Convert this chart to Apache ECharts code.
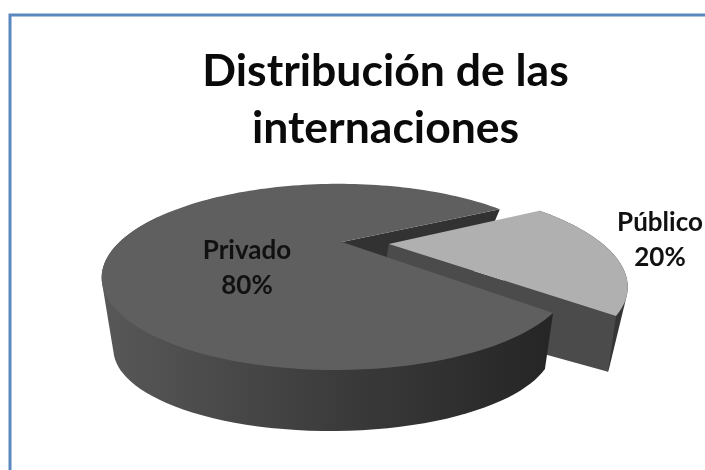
<!DOCTYPE html>
<html>
<head>
<meta charset="utf-8">
<style>
  html, body { margin: 0; padding: 0; background: #fff; }
  #chart { width: 705px; height: 470px; }
</style>
<script src="https://cdn.jsdelivr.net/npm/echarts@6/dist/echarts.min.js"></script>
</head>
<body>
<div id="chart"></div>
<script>
const titleText = 'Distribución de las\ninternaciones'
const categories = ['Privado', 'Público']
const values = [80, 20]
const exploded = [0, 0.215]

const total = values.reduce((a, b) => a + b, 0)
const startDeg = 42.5 // Privado arranca en la esquina frontal derecha
const rad = Math.PI / 180

// perspectiva del disco superior e inferior
const topRing = { x: 342, y: 242, a: 218, b: 80, k: 0.375, l: 0.02 }
const lowRing = { x: 338, y: 307, a: 190, b: 62, k: 0.5, l: 0.02 }

function project(ring, u, v) {
  const d = 1 - ring.k * v + ring.l * u
  return [ring.x + ring.a * u / d, ring.y + ring.b * v / d]
}

function arc(ring, from, to, off) {
  const pts = []
  const n = Math.max(2, Math.ceil(Math.abs(to - from) / 2))
  for (let i = 0; i <= n; i++) {
    const t = (from + (to - from) * i / n) * rad
    pts.push(project(ring, off[0] + Math.cos(t), off[1] + Math.sin(t)))
  }
  return pts
}

// contorno convexo: la silueta de la pared une los dos discos por su tangente
function hull(points) {
  const p = points.slice().sort((a, b) => a[0] - b[0] || a[1] - b[1])
  const cross = (o, a, b) => (a[0] - o[0]) * (b[1] - o[1]) - (a[1] - o[1]) * (b[0] - o[0])
  const half = list => {
    const out = []
    list.forEach(pt => {
      while (out.length > 1 && cross(out[out.length - 2], out[out.length - 1], pt) <= 0) out.pop()
      out.push(pt)
    })
    out.pop()
    return out
  }
  return half(p).concat(half(p.slice().reverse()))
}

function wall(from, to, off) {
  return hull(arc(topRing, from, to, off).concat(arc(lowRing, from, to, off)))
}

function sliceAngles(idx) {
  let from = startDeg
  for (let i = 0; i < idx; i++) from += values[i] / total * 360
  return [from, from + values[idx] / total * 360]
}

function poly(points, fill, z2) {
  return { type: 'polygon', z2: z2, shape: { points: points }, style: { fill: fill } }
}

function edgeWall(angle, off) {
  const t = angle * rad
  const o = [off[0] + Math.cos(t), off[1] + Math.sin(t)]
  return [
    project(topRing, off[0], off[1]), project(topRing, o[0], o[1]),
    project(lowRing, o[0], o[1]), project(lowRing, off[0], off[1])
  ]
}

function renderSlice(params, api) {
  const idx = params.dataIndex
  const pct = Math.round(api.value(0) / total * 100)
  const [from, to] = sliceAngles(idx)
  const mid = (from + to) / 2 * rad
  const off = [exploded[idx] * Math.cos(mid), exploded[idx] * Math.sin(mid)]
  const top = [project(topRing, off[0], off[1])].concat(arc(topRing, from, to, off))
  const label = categories[idx] + '\n' + pct + '%'
  const textStyle = {
    text: label, align: 'center', verticalAlign: 'middle',
    font: '700 26px Lato', lineHeight: 35, fill: '#111'
  }
  if (idx === 0) {
    const shade = new echarts.graphic.LinearGradient(0, 0, 1, 0, [
      { offset: 0, color: '#585858' },
      { offset: 0.55, color: '#3a3a3a' },
      { offset: 1, color: '#252525' }
    ])
    return { type: 'group', children: [
      poly(edgeWall(to, off), '#323232', 1),
      poly(wall(from, 200, off), shade, 6),
      poly(top, '#5f5f5f', 7),
      { type: 'text', z2: 9, x: 247, y: 268, style: textStyle }
    ] }
  }
  return { type: 'group', children: [
    poly(wall(from, to, off), '#353535', 2),
    poly(edgeWall(to, off), '#4b4b4b', 3),
    poly(top, '#b0b0b0', 4),
    { type: 'text', z2: 9, x: 660, y: 240, style: textStyle }
  ] }
}

const chart = echarts.init(document.getElementById('chart'))
chart.setOption({
  animation: false,
  backgroundColor: '#fff',
  title: {
    text: titleText,
    left: 380.5,
    top: 38,
    textAlign: 'center',
    textStyle: { fontFamily: 'Lato', fontWeight: 700, fontSize: 44.5, lineHeight: 57, color: '#0a0a0a' }
  },
  graphic: [{
    type: 'polyline',
    silent: true,
    shape: { points: [[10, 470], [10, 15], [705, 15]] },
    style: { stroke: '#5b87bf', lineWidth: 3, fill: null }
  }],
  series: [{
    type: 'custom',
    coordinateSystem: 'none',
    silent: true,
    renderItem: renderSlice,
    data: values.map(v => [v])
  }]
})
</script>
</body>
</html>
